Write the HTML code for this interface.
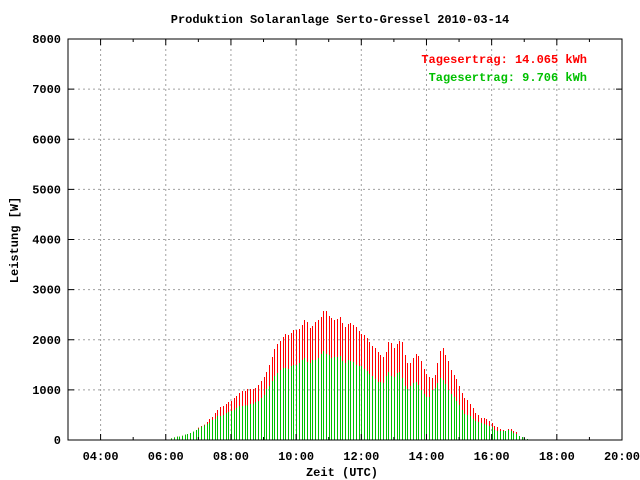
<!DOCTYPE html>
<html><head><meta charset="utf-8"><style>
body{margin:0;background:#fff}
svg{display:block;font-family:"Liberation Mono","DejaVu Sans Mono",monospace;font-weight:bold;font-size:12px}
</style></head><body>
<svg id="chart" width="640" height="480" viewBox="0 0 640 480">
<rect width="640" height="480" fill="#fff"/>
<text x="340" y="23" text-anchor="middle">Produktion Solaranlage Serto-Gressel 2010-03-14</text>
<g id="grid"></g>
<g id="bars"></g>
<g id="axes"></g>
<text x="587" y="63" text-anchor="end" fill="#ff0000">Tagesertrag: 14.065 kWh</text>
<text x="587" y="81" text-anchor="end" fill="#00c000">Tagesertrag: 9.706 kWh</text>
<text transform="translate(18,240) rotate(-90)" text-anchor="middle">Leistung [W]</text>
<text x="342" y="476" text-anchor="middle">Zeit (UTC)</text>
</svg>
<script>
const startHour = 6 + 10/60;
const stepMinutes = 5;
const redValues = [33,53,67,67,86,106,120,140,166,200,246,279,306,359,419,459,539,599,658,678,718,758,778,838,878,938,978,978,1017,1017,1017,1037,1097,1177,1257,1357,1496,1656,1815,1915,1975,2055,2115,2095,2135,2195,2195,2214,2294,2394,2354,2234,2274,2354,2394,2454,2574,2574,2474,2434,2394,2414,2454,2334,2254,2314,2334,2294,2254,2175,2115,2095,2035,1955,1875,1835,1756,1696,1656,1756,1955,1935,1835,1915,1975,1955,1696,1536,1536,1636,1716,1676,1576,1416,1317,1257,1237,1297,1536,1776,1835,1696,1576,1397,1297,1217,1077,938,838,798,718,638,539,499,439,439,419,379,339,279,259,219,200,180,219,219,180,160,80,60,40,20];
const greenValues = [33,53,67,67,86,106,120,140,166,200,226,266,293,319,346,399,419,479,479,499,539,559,579,599,638,678,678,692,692,718,718,758,778,838,898,1017,1077,1177,1277,1337,1397,1436,1436,1416,1476,1496,1496,1536,1596,1636,1556,1536,1596,1596,1636,1716,1776,1716,1696,1636,1656,1656,1676,1576,1536,1596,1576,1556,1496,1476,1476,1416,1377,1317,1277,1217,1157,1157,1137,1277,1357,1277,1257,1337,1357,1237,1077,1017,1077,1137,1157,1097,998,918,858,858,998,1037,1137,1237,1197,1117,998,918,858,778,698,599,519,499,479,419,379,359,339,319,299,279,259,200,180,180,180,180,200,180,140,120,80,60,40,20];
const xTickLabels = ["04:00","06:00","08:00","10:00","12:00","14:00","16:00","18:00","20:00"];
const yTickLabels = ["0","1000","2000","3000","4000","5000","6000","7000","8000"];

const L=68,R=622,T=39,B=440,X0=3,X1=20,Y1=8000;
const xs=h=>L+(h-X0)/(X1-X0)*(R-L);
const ys=v=>B-v/Y1*(B-T);
const NS="http://www.w3.org/2000/svg";
function mk(p,tag,a){const e=document.createElementNS(NS,tag);for(const k in a)e.setAttribute(k,a[k]);p.appendChild(e);return e;}
const grid=document.getElementById('grid'),bars=document.getElementById('bars'),axes=document.getElementById('axes');

yTickLabels.forEach(lbl=>{
  const v=+lbl,y=ys(v);
  if(v>0&&v<Y1){const g=mk(grid,'line',{x1:L,x2:R,y1:y,y2:y,stroke:'#a0a0a0','stroke-dasharray':'2,3'});
  
  }
  mk(axes,'line',{x1:L,x2:L+6,y1:y,y2:y,stroke:'#000'});
  mk(axes,'line',{x1:R,x2:R-6,y1:y,y2:y,stroke:'#000'});
  const t=mk(axes,'text',{x:61,y:y+4,'text-anchor':'end'});t.textContent=lbl;
  
  
});
xTickLabels.forEach(lbl=>{
  const h=parseInt(lbl),x=xs(h);
  if(h<X1){const g=mk(grid,'line',{x1:x,x2:x,y1:T,y2:B,stroke:'#a0a0a0','stroke-dasharray':'2,3'});
  
  }
  const t=mk(axes,'text',{x:x,y:460,'text-anchor':'middle'});t.textContent=lbl;
  
  
});
for(let h=X0+0;h<=X1;h++){const x=xs(h);
  mk(axes,'line',{x1:x,x2:x,y1:B,y2:B-(h%2?3:6),stroke:'#000'});
  mk(axes,'line',{x1:x,x2:x,y1:T,y2:T+(h%2?3:6),stroke:'#000'});}

redValues.forEach((v,i)=>{
  const x=Math.round(xs(startHour+i*stepMinutes/60))+0.5;
  const r=mk(bars,'line',{x1:x,x2:x,y1:B,y2:ys(v),stroke:'#ff0000','stroke-width':1});
  
  
});
greenValues.forEach((v,i)=>{
  const x=Math.round(xs(startHour+i*stepMinutes/60))+0.5;
  const g=mk(bars,'line',{x1:x,x2:x,y1:B,y2:ys(v),stroke:'#00c000','stroke-width':1});
  
  
});
const f=mk(axes,'rect',{x:L,y:T,width:R-L,height:B-T,fill:'none',stroke:'#000'});


</script>
</body></html>
